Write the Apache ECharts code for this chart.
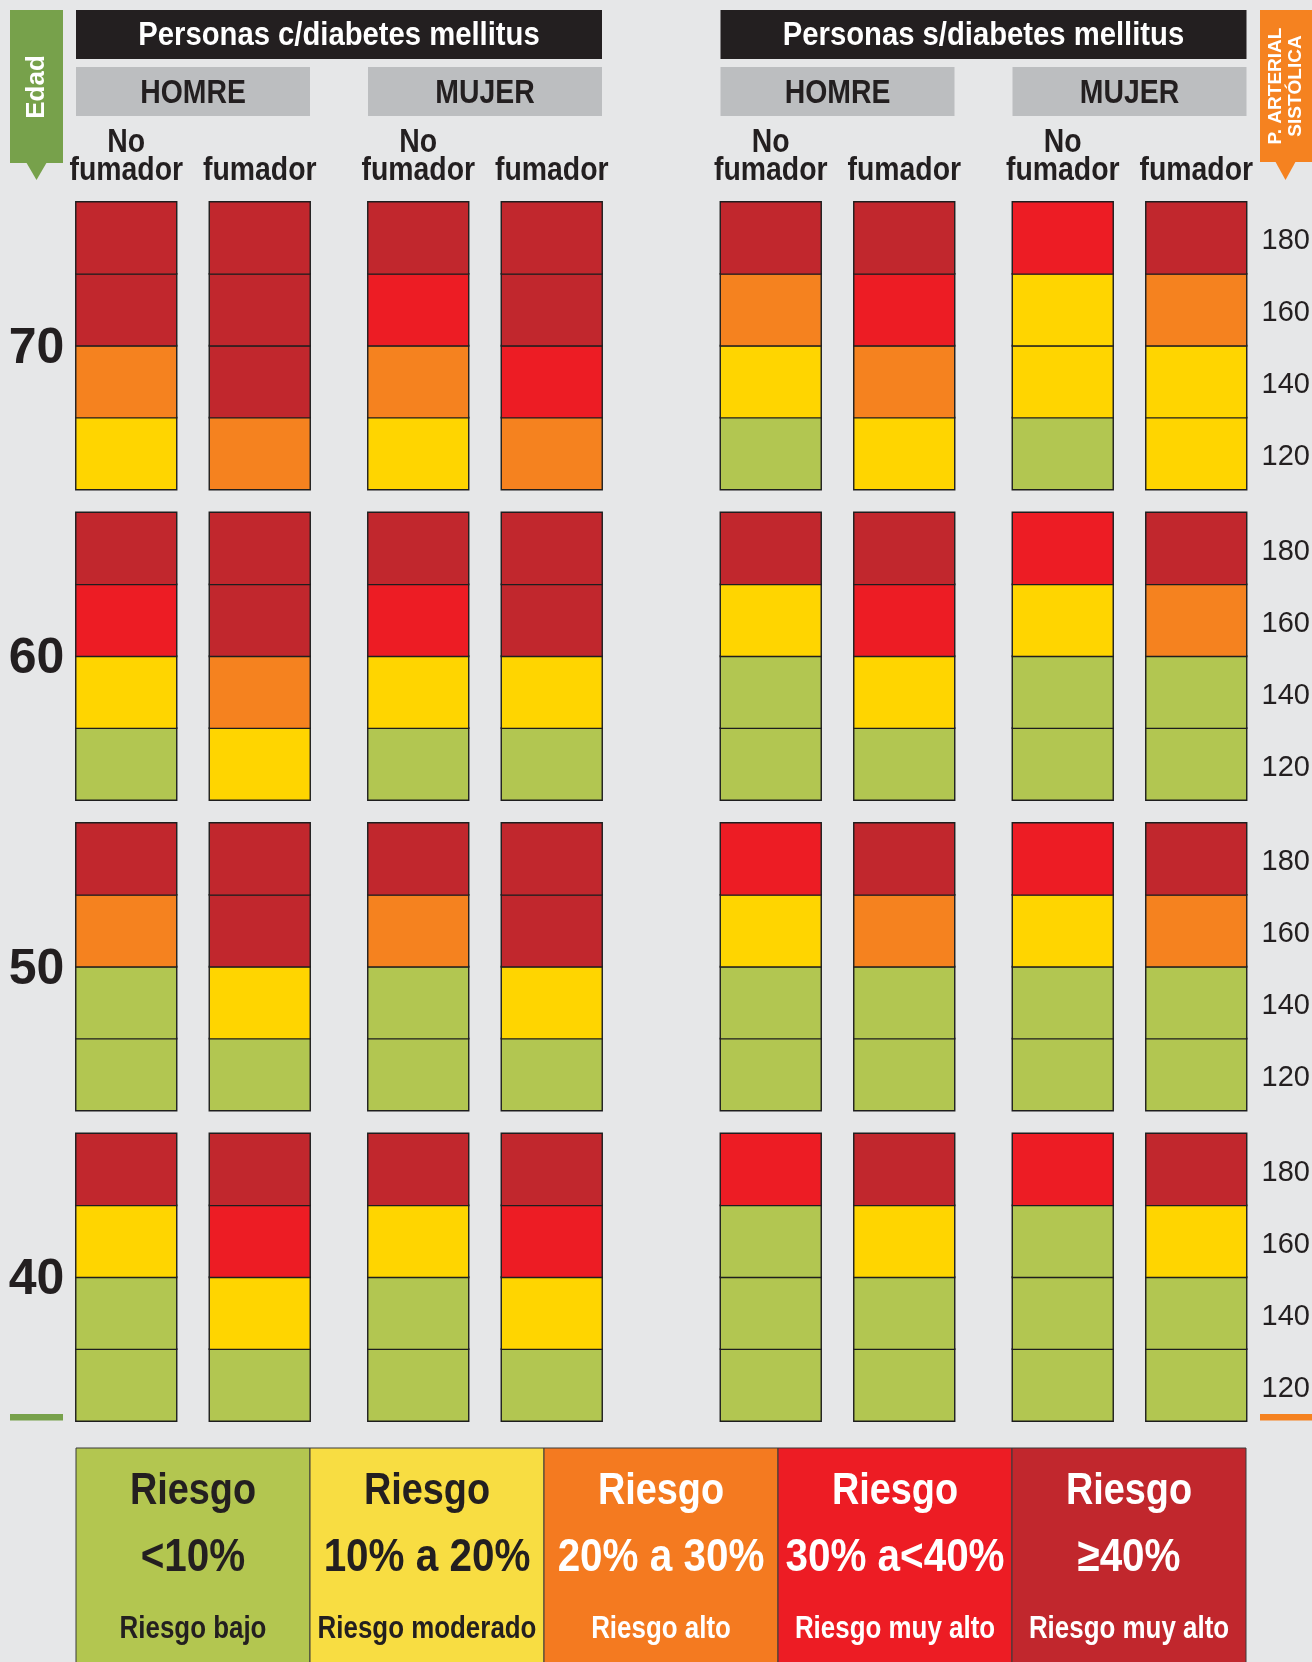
<!DOCTYPE html>
<html><head><meta charset="utf-8">
<script src="https://cdn.jsdelivr.net/npm/echarts@6/dist/echarts.min.js"></script>
<style>html,body{margin:0;padding:0;background:#E6E7E8;}#c{width:1312px;height:1662px;}</style>
</head><body><div id="c"></div>
<script>
// ---------- DATA ----------
const ageGroups = ['70', '60', '50', '40'];
const bpLevels = ['120', '140', '160', '180'];
const panelTitles = ['Personas c/diabetes mellitus', 'Personas s/diabetes mellitus'];
const sexLabels = ['HOMRE', 'MUJER'];
const smokerLabels = ['No\nfumador', 'fumador'];
// Risk level (0 <10%, 1 10-20%, 2 20-30%, 3 30-<40%, 4 >=40%)
// 8 columns: c/diab H no-fum, H fum, M no-fum, M fum, s/diab H no-fum, H fum, M no-fum, M fum
// each column lists values for BP 120, 140, 160, 180
const risk70 = [[1,2,4,4],[2,4,4,4],[1,2,3,4],[2,3,4,4],[0,1,2,4],[1,2,3,4],[0,1,1,3],[1,1,2,4]];
const risk60 = [[0,1,3,4],[1,2,4,4],[0,1,3,4],[0,1,4,4],[0,0,1,4],[0,1,3,4],[0,0,1,3],[0,0,2,4]];
const risk50 = [[0,0,2,4],[0,1,4,4],[0,0,2,4],[0,1,4,4],[0,0,1,3],[0,0,2,4],[0,0,1,3],[0,0,2,4]];
const risk40 = [[0,0,1,4],[0,1,3,4],[0,0,1,4],[0,1,3,4],[0,0,0,3],[0,0,1,4],[0,0,0,3],[0,0,1,4]];
const legendTitles = ['Riesgo', 'Riesgo', 'Riesgo', 'Riesgo', 'Riesgo'];
const legendRanges = ['<10%', '10% a 20%', '20% a 30%', '30% a<40%', '≥40%'];
const legendDescs = ['Riesgo bajo', 'Riesgo moderado', 'Riesgo alto', 'Riesgo muy alto', 'Riesgo muy alto'];

// ---------- STYLE / LAYOUT ----------
const riskByAge = [risk70, risk60, risk50, risk40];
const cellColors = ['#B2C651', '#FFD500', '#F5821F', '#ED1C24', '#C1272D'];
const legendColors = ['#B3C650', '#F8DD42', '#F47A20', '#ED1C24', '#C1272D'];
const legendText = ['#231F20', '#231F20', '#ffffff', '#ffffff', '#ffffff'];
const SANS = '"Liberation Sans",Arial,sans-serif';
const DARK = '#231F20';
const COND = 0.86;
const panelLefts = [76, 368, 720.5, 1012.5];
const pairStep = 133.5, colW = 100.5;
const groupTop0 = 202, groupStep = 310.5, groupH = 287.5;

const grids = [], xAxes = [], yAxes = [], series = [];
ageGroups.forEach((age, a) => {
  for (let c = 0; c < 8; c++) {
    const left = panelLefts[Math.floor(c / 2)] + (c % 2) * pairStep;
    const top = groupTop0 + a * groupStep;
    const gi = grids.length;
    grids.push({ left: left, top: top, width: colW, height: groupH, outerBoundsMode: 'none', containLabel: false });
    xAxes.push({
      type: 'category', gridIndex: gi, data: [smokerLabels[c % 2]], position: 'top',
      axisLine: { show: false }, axisTick: { show: false }, splitLine: { show: false },
      axisLabel: { show: false }
    });
    yAxes.push({
      type: 'category', gridIndex: gi, data: bpLevels, position: 'right',
      axisLine: { show: false }, axisTick: { show: false }, splitLine: { show: false },
      axisLabel: {
        show: c === 7, margin: 15,
        formatter: v => '{v|' + v + '}',
        rich: { v: { color: DARK, fontFamily: SANS, fontSize: 29, padding: [7, 0, 0, 0] } }
      }
    });
    series.push({
      type: 'heatmap', xAxisIndex: gi, yAxisIndex: gi,
      data: riskByAge[a][c].map((v, r) => [0, r, v]),
      itemStyle: { borderColor: '#1e1e1e', borderWidth: 1.4 },
      emphasis: { disabled: true }
    });
  }
});

function ctext(x, y, text, color, size, extra) {
  return Object.assign({ type: 'text', x: x, y: y, scaleX: COND,
    style: { text: text, fill: color, font: 'bold ' + size + 'px ' + SANS, align: 'center', verticalAlign: 'middle' } }, extra || {});
}

const graphic = [];
// Edad banner
graphic.push({ type: 'rect', shape: { x: 10, y: 10, width: 53, height: 153 }, style: { fill: '#77A14B' } });
graphic.push({ type: 'polygon', shape: { points: [[26, 162], [47, 162], [36.5, 180]] }, style: { fill: '#77A14B' } });
graphic.push({ type: 'text', x: 37, y: 87, rotation: Math.PI / 2,
  style: { text: 'Edad', fill: '#fff', font: 'bold 26px ' + SANS, align: 'center', verticalAlign: 'middle' } });
// P. arterial banner
graphic.push({ type: 'rect', shape: { x: 1260, y: 10, width: 52, height: 152 }, style: { fill: '#F58220' } });
graphic.push({ type: 'polygon', shape: { points: [[1275, 161], [1296, 161], [1285.5, 180]] }, style: { fill: '#F58220' } });
graphic.push({ type: 'text', x: 1286, y: 86, rotation: Math.PI / 2,
  style: { text: 'P. ARTERIAL\nSISTÓLICA', fill: '#fff', font: 'bold 19px ' + SANS, lineHeight: 20, align: 'center', verticalAlign: 'middle' } });
// Headers
panelTitles.forEach((t, p) => {
  const x0 = panelLefts[p * 2];
  const x1 = panelLefts[p * 2 + 1] + pairStep + colW;
  graphic.push({ type: 'rect', shape: { x: x0, y: 10, width: x1 - x0, height: 49 }, style: { fill: DARK } });
  graphic.push(ctext((x0 + x1) / 2, 36, t, '#fff', 34));
  sexLabels.forEach((s, k) => {
    const sx0 = panelLefts[p * 2 + k];
    const sx1 = sx0 + pairStep + colW;
    graphic.push({ type: 'rect', shape: { x: sx0, y: 67, width: sx1 - sx0, height: 49 }, style: { fill: '#BCBEC0' } });
    graphic.push(ctext((sx0 + sx1) / 2, 94, s, DARK, 33));
    // smoker labels
    smokerLabels.forEach((lab, m) => {
      const cx = sx0 + m * pairStep + colW / 2;
      graphic.push({ type: 'text', x: cx, y: 185, scaleX: COND,
        style: { text: lab, fill: DARK, font: 'bold 33px ' + SANS, lineHeight: 28, align: 'center', verticalAlign: 'bottom' } });
    });
  });
});
// Age labels
ageGroups.forEach((age, a) => {
  graphic.push({ type: 'text', x: 36.5, y: groupTop0 + a * groupStep + groupH / 2 + 3,
    style: { text: age, fill: DARK, font: 'bold 50px ' + SANS, align: 'center', verticalAlign: 'middle' } });
});
// bottom marker lines
graphic.push({ type: 'rect', shape: { x: 10, y: 1414, width: 53, height: 6.5 }, style: { fill: '#77A14B' } });
graphic.push({ type: 'rect', shape: { x: 1260, y: 1414, width: 52, height: 6.5 }, style: { fill: '#F58220' } });
// Legend
const legX0 = 76, legW = 234, legY = 1448;
legendRanges.forEach((r, i) => {
  const x = legX0 + i * legW;
  graphic.push({ type: 'rect', shape: { x: x, y: legY, width: legW, height: 1662 - legY + 5 },
    style: { fill: legendColors[i], stroke: '#3a3a3a', lineWidth: 1 } });
  const cx = x + legW / 2;
  graphic.push(ctext(cx, 1492, legendTitles[i], legendText[i], 44));
  graphic.push(ctext(cx, 1558, r, legendText[i], 47));
  graphic.push(ctext(cx, 1629, legendDescs[i], legendText[i], 32, { scaleX: 0.81 }));
});

const chart = echarts.init(document.getElementById('c'), null, { renderer: 'canvas' });
chart.setOption({
  backgroundColor: '#E6E7E8',
  animation: false,
  grid: grids, xAxis: xAxes, yAxis: yAxes, series: series,
  visualMap: {
    type: 'piecewise', show: false, seriesIndex: series.map((s, i) => i),
    pieces: cellColors.map((col, i) => ({ value: i, color: col }))
  },
  graphic: graphic
});
</script></body></html>
